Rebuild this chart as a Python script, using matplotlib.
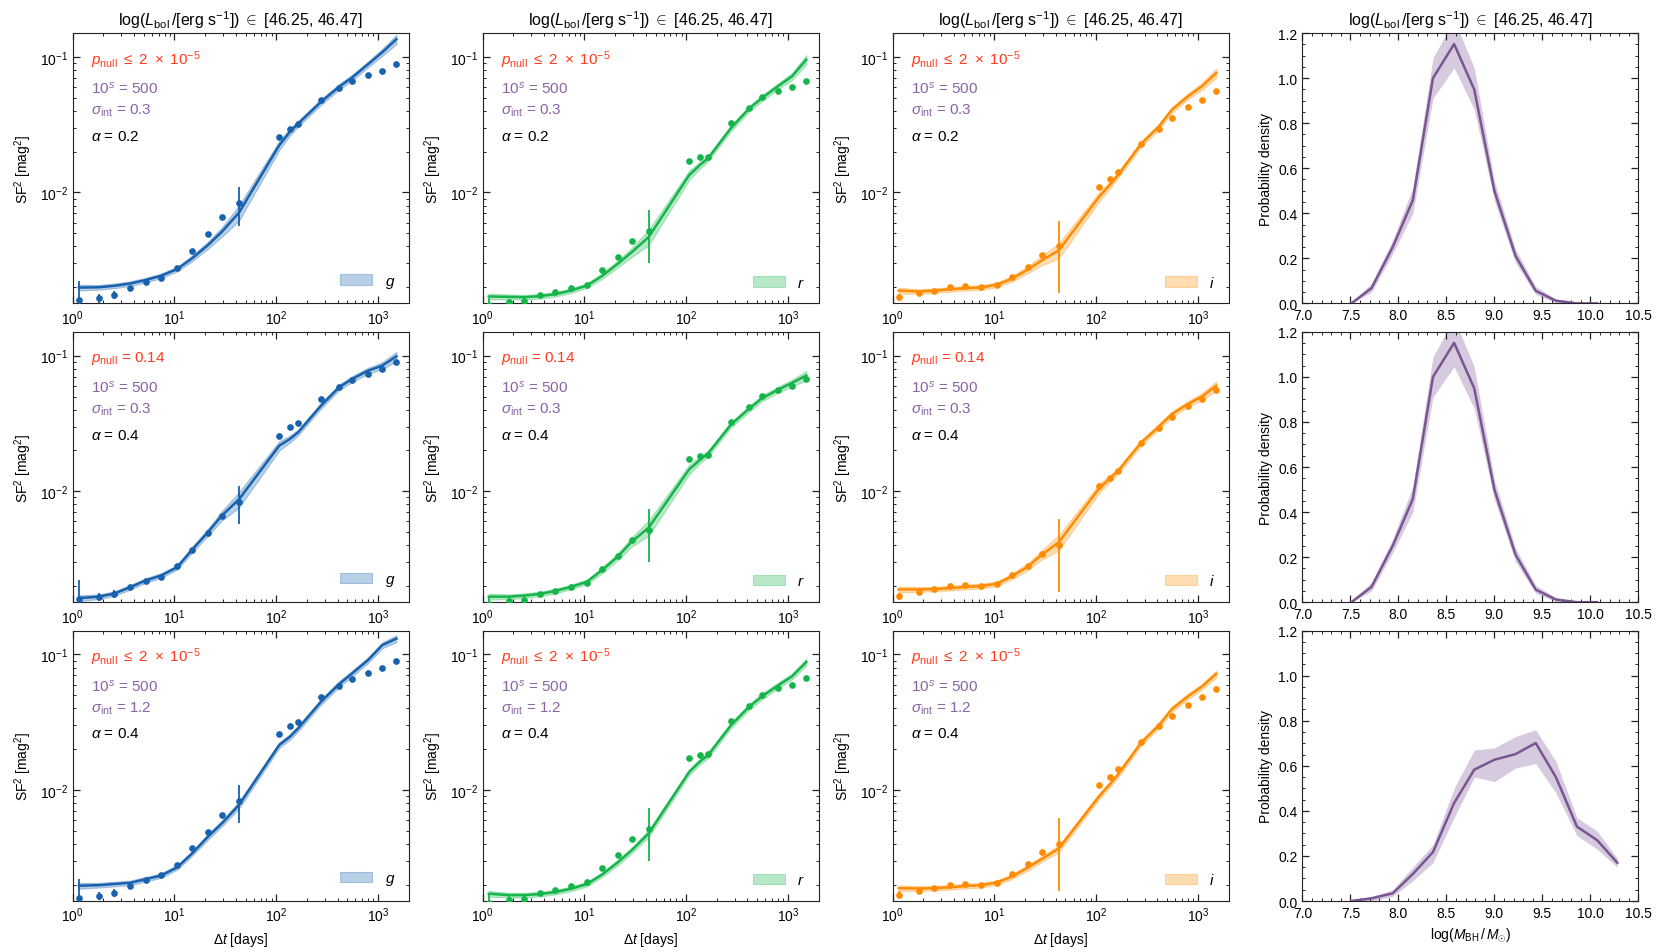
import numpy as np
import matplotlib
matplotlib.use('Agg')
import matplotlib.pyplot as plt
from matplotlib.ticker import MultipleLocator, FormatStrFormatter

plt.rcParams['font.family'] = ['Liberation Sans', 'DejaVu Sans']
plt.rcParams['mathtext.fontset'] = 'custom'
plt.rcParams['mathtext.rm'] = 'Liberation Sans'
plt.rcParams['mathtext.it'] = 'Liberation Sans:italic'
plt.rcParams['mathtext.bf'] = 'Liberation Sans:bold'
plt.rcParams['font.size'] = 10
plt.rcParams['xtick.direction'] = 'in'
plt.rcParams['ytick.direction'] = 'in'
plt.rcParams['xtick.top'] = True
plt.rcParams['ytick.right'] = True
plt.rcParams['xtick.labelsize'] = 10
plt.rcParams['ytick.labelsize'] = 10
plt.rcParams['axes.edgecolor'] = '#222222'

# time lags of the structure-function bins
dt = [1.15, 1.81, 2.56, 3.67, 5.2, 7.36, 10.6, 14.9, 21.3, 29.2, 42.9,
      107, 136, 164, 275, 413, 555, 796, 1097, 1514]

# observed SF^2 per band
sf_g = [0.00161, 0.00166, 0.00175, 0.00197, 0.00218, 0.00235, 0.00279, 0.00372, 0.00493, 0.00658,
        0.00830, 0.0257, 0.0296, 0.0319, 0.0482, 0.0590, 0.0661, 0.0736, 0.0793, 0.0893]
sf_g_err = [0.0006, 0.00012, 0.00012, 0.00004, 0.00004, 0.00004, 0.00005, 0.00006, 0.00008, 0.0001,
            0.0026, 0.0003, 0.0003, 0.0003, 0.0004, 0.0005, 0.0005, 0.0006, 0.0006, 0.0007]
sf_r = [0.00148, 0.00155, 0.00158, 0.00175, 0.00184, 0.00197, 0.00209, 0.00266, 0.00334, 0.00436,
        0.00520, 0.01718, 0.01816, 0.01837, 0.0323, 0.0419, 0.0502, 0.0563, 0.0600, 0.0668]
sf_r_err = [0.0002, 0.0001, 0.0001, 0.00004, 0.00004, 0.00004, 0.00005, 0.00006, 0.00008, 0.0001,
            0.0022, 0.0003, 0.0003, 0.0003, 0.0004, 0.0005, 0.0005, 0.0006, 0.0006, 0.0007]
sf_i = [0.00169, 0.00181, 0.00189, 0.00200, 0.00204, 0.00201, 0.00208, 0.00240, 0.00283, 0.00347,
        0.00400, 0.01089, 0.01256, 0.01423, 0.0227, 0.0295, 0.0353, 0.0424, 0.0483, 0.0557]
sf_i_err = [0.0001, 0.00008, 0.00006, 0.00004, 0.00004, 0.00004, 0.00005, 0.00006, 0.00008, 0.0001,
            0.0022, 0.0003, 0.0003, 0.0003, 0.0004, 0.0005, 0.0005, 0.0006, 0.0006, 0.0007]

# model SF^2 (median) for the three parameter sets (rows)
model_g_1 = [0.00199, 0.00200, 0.00205, 0.00213, 0.00226, 0.00243, 0.00272, 0.00327, 0.00409, 0.00513,
             0.00708, 0.0223, 0.0280, 0.0322, 0.0466, 0.0601, 0.0703, 0.0882, 0.108, 0.135]
model_g_2 = [0.00163, 0.00167, 0.00176, 0.00196, 0.00220, 0.00239, 0.00275, 0.00371, 0.00499, 0.00662,
             0.00870, 0.0217, 0.0243, 0.0272, 0.0428, 0.0584, 0.0673, 0.0775, 0.0844, 0.0989]
model_g_3 = [0.00197, 0.00199, 0.00203, 0.00207, 0.00220, 0.00234, 0.00269, 0.00341, 0.00453, 0.00568,
             0.00775, 0.0215, 0.0247, 0.0285, 0.0448, 0.0604, 0.0724, 0.0908, 0.117, 0.131]
model_r_1 = [0.00171, 0.00170, 0.00169, 0.00172, 0.00178, 0.00189, 0.00206, 0.00242, 0.00298, 0.00363,
             0.00470, 0.01343, 0.0159, 0.01786, 0.0298, 0.0414, 0.0497, 0.0607, 0.0719, 0.0955]
model_r_2 = [0.00167, 0.00167, 0.00170, 0.00175, 0.00184, 0.00197, 0.00215, 0.00262, 0.00330, 0.00425,
             0.00540, 0.0145, 0.0170, 0.0190, 0.0310, 0.0405, 0.0485, 0.0560, 0.0630, 0.0715]
model_r_3 = [0.00172, 0.00168, 0.00168, 0.00171, 0.00177, 0.00187, 0.00203, 0.00238, 0.00293, 0.00360,
             0.00480, 0.0136, 0.0162, 0.0181, 0.0300, 0.0410, 0.0490, 0.0590, 0.0690, 0.0880]
model_i_1 = [0.00189, 0.00186, 0.00189, 0.00193, 0.00197, 0.00199, 0.00209, 0.00231, 0.00270, 0.00315,
             0.00374, 0.00929, 0.01133, 0.01343, 0.0227, 0.0306, 0.0407, 0.0511, 0.0607, 0.0761]
model_i_2 = [0.00189, 0.00189, 0.00190, 0.00193, 0.00197, 0.00200, 0.00208, 0.00236, 0.00278, 0.00340,
             0.00420, 0.0105, 0.0124, 0.0141, 0.0227, 0.0300, 0.0370, 0.0440, 0.0500, 0.0600]
model_i_3 = [0.00189, 0.00188, 0.00189, 0.00192, 0.00196, 0.00199, 0.00208, 0.00230, 0.00268, 0.00310,
             0.00370, 0.00900, 0.01100, 0.01300, 0.0222, 0.0300, 0.0395, 0.0490, 0.0580, 0.0720]

# fractional half-width of the model band
band_low_sigma = [0.05, 0.04, 0.04, 0.04, 0.04, 0.04, 0.04, 0.05, 0.06, 0.08, 0.13,
                  0.08, 0.06, 0.05, 0.05, 0.05, 0.05, 0.05, 0.06, 0.08]
band_high_sigma = [0.05, 0.04, 0.04, 0.04, 0.04, 0.04, 0.04, 0.04, 0.05, 0.05, 0.06,
                   0.05, 0.05, 0.05, 0.05, 0.05, 0.05, 0.05, 0.05, 0.06]

# black-hole mass distributions
mbh = [7.51, 7.72, 7.94, 8.15, 8.36, 8.58, 8.79, 9.00, 9.22, 9.43, 9.64, 9.86, 10.07, 10.28]
pdf_1 = [0.0, 0.068, 0.25, 0.458, 1.0, 1.151, 0.949, 0.499, 0.211, 0.056, 0.012, 0.0, 0.0, np.nan]
pdf_1_lo = [0.0, 0.05, 0.22, 0.40, 0.91, 1.045, 0.86, 0.455, 0.18, 0.04, 0.003, 0.0, 0.0, np.nan]
pdf_1_hi = [0.005, 0.09, 0.28, 0.514, 1.09, 1.26, 1.045, 0.543, 0.24, 0.075, 0.02, 0.005, 0.002, np.nan]
pdf_3 = [0.0, 0.012, 0.034, 0.12, 0.217, 0.435, 0.583, 0.627, 0.652, 0.701, 0.55, 0.33, 0.27, 0.17]
pdf_3_lo = [0.0, 0.0, 0.02, 0.09, 0.17, 0.37, 0.55, 0.53, 0.59, 0.61, 0.48, 0.29, 0.23, 0.15]
pdf_3_hi = [0.005, 0.02, 0.05, 0.15, 0.25, 0.50, 0.67, 0.68, 0.73, 0.76, 0.62, 0.37, 0.31, 0.19]

bands = ['g', 'r', 'i']
band_colors = {'g': '#1761ad', 'r': '#16b54b', 'i': '#ff8c00'}
obs = {'g': (sf_g, sf_g_err), 'r': (sf_r, sf_r_err), 'i': (sf_i, sf_i_err)}
models = {'g': [model_g_1, model_g_2, model_g_3],
          'r': [model_r_1, model_r_2, model_r_3],
          'i': [model_i_1, model_i_2, model_i_3]}
p_small = r'$p_{\rm null}\ \leq\ 2\ \times\ 10^{-5}$'
row_pnull = [p_small, r'$p_{\rm null}$ = 0.14', p_small]
row_sigma = ['0.3', '0.3', '1.2']
row_alpha = ['0.2', '0.4', '0.4']
row_band = [band_low_sigma, band_low_sigma, band_high_sigma]
row_pdf = [(pdf_1, pdf_1_lo, pdf_1_hi), (pdf_1, pdf_1_lo, pdf_1_hi), (pdf_3, pdf_3_lo, pdf_3_hi)]

title = r'log($L_{\rm bol}\,/$[erg s$^{-1}$]) $\in$ [46.25, 46.47]'
red = '#ff3a1c'
purple_txt = '#8a63a6'
purple = '#7a5592'


def style_ticks(ax):
    ax.tick_params(which='major', length=5, width=0.9, colors='#222222')
    ax.tick_params(which='minor', length=2.5, width=0.7, colors='#222222')
    ax.tick_params(labelcolor='black')


fig, axes = plt.subplots(3, 4, figsize=(16.6, 9.53), dpi=100)
fig.subplots_adjust(left=0.0438, right=0.987, bottom=0.0535, top=0.9643, wspace=0.22, hspace=0.105)

for row in range(3):
    for col, b in enumerate(bands):
        ax = axes[row, col]
        c = band_colors[b]
        m = np.array(models[b][row])
        f = np.array(row_band[row])
        band = ax.fill_between(dt, m * (1 - f), m * (1 + f), color=c, alpha=0.3, lw=0.8)
        ax.plot(dt, m, color=c, lw=1.8)
        y, e = obs[b]
        ax.errorbar(dt, y, yerr=e, fmt='o', ms=3.8, color=c, elinewidth=1.3, capsize=0, zorder=3)
        ax.set_xscale('log')
        ax.set_yscale('log')
        ax.set_xlim(1, 2000)
        ax.set_ylim(0.00152, 0.15)
        ax.set_ylabel(r'SF$^2$ [mag$^2$]', fontsize=10)
        if row == 2:
            ax.set_xlabel(r'$\Delta t$ [days]', fontsize=10)
        if row == 0:
            ax.set_title(title, fontsize=11.5)
        ax.text(0.054, 0.904, row_pnull[row], transform=ax.transAxes, color=red, fontsize=11, va='center')
        ax.text(0.054, 0.797, r'$10^{s}$ = 500', transform=ax.transAxes, color=purple_txt, fontsize=11, va='center')
        ax.text(0.054, 0.716, r'$\sigma_{\rm int}$ = ' + row_sigma[row], transform=ax.transAxes,
                color=purple_txt, fontsize=11, va='center')
        ax.text(0.054, 0.62, r'$\alpha$ = ' + row_alpha[row], transform=ax.transAxes, color='black',
                fontsize=11, va='center')
        ax.legend(handles=[band], labels=['$' + b + '$'], loc='lower right', frameon=False,
                  handlelength=2.1, fontsize=11)
        style_ticks(ax)

    # black-hole mass pdf
    ax = axes[row, 3]
    p, lo, hi = row_pdf[row]
    ax.fill_between(mbh, lo, hi, color=purple, alpha=0.3, lw=0)
    ax.plot(mbh, p, color=purple, lw=1.8)
    ax.set_xlim(7.0, 10.5)
    ax.set_ylim(0, 1.2)
    ax.xaxis.set_major_locator(MultipleLocator(0.5))
    ax.xaxis.set_minor_locator(MultipleLocator(0.1))
    ax.yaxis.set_major_locator(MultipleLocator(0.2))
    ax.yaxis.set_minor_locator(MultipleLocator(0.05))
    ax.xaxis.set_major_formatter(FormatStrFormatter('%.1f'))
    ax.yaxis.set_major_formatter(FormatStrFormatter('%.1f'))
    ax.set_ylabel('Probability density', fontsize=10)
    if row == 2:
        ax.set_xlabel(r'log($M_{\rm BH}\,/\,M_{\odot}$)', fontsize=10)
    if row == 0:
        ax.set_title(title, fontsize=11.5)
    style_ticks(ax)

fig.savefig('out.png', dpi=100)
